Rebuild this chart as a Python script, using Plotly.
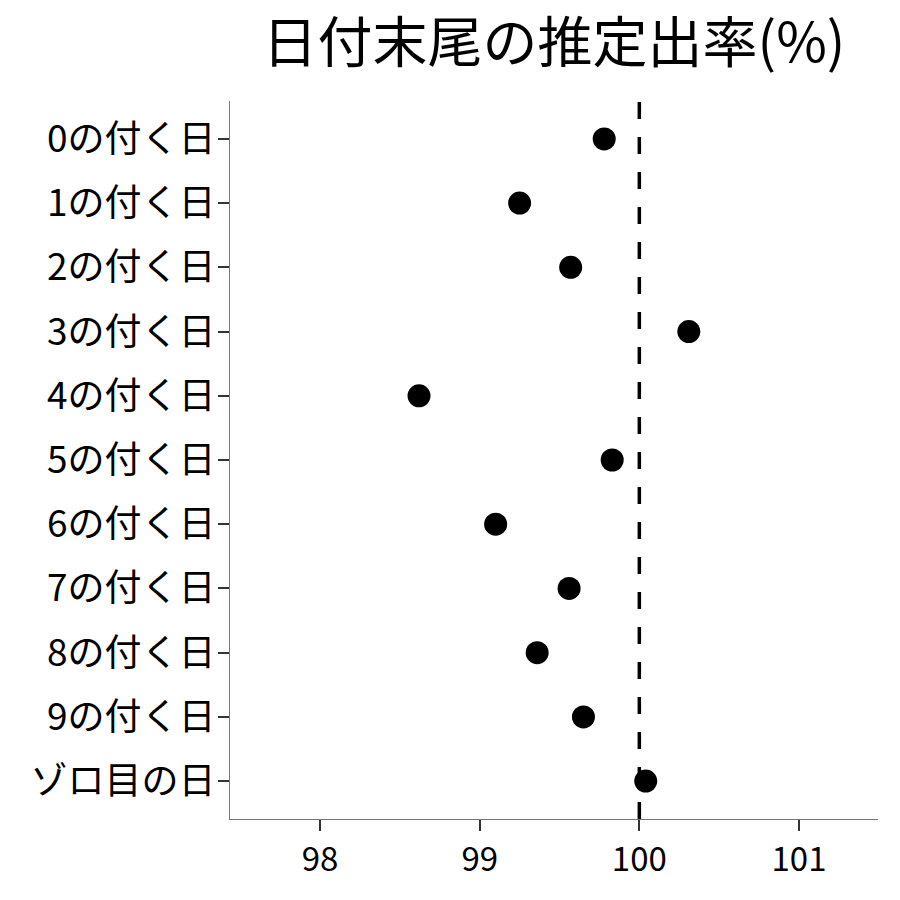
import plotly.graph_objects as go

categories = ["0の付く日", "1の付く日", "2の付く日", "3の付く日", "4の付く日",
              "5の付く日", "6の付く日", "7の付く日", "8の付く日", "9の付く日", "ゾロ目の日"]
rates = [99.78, 99.25, 99.57, 100.31, 98.62, 99.83, 99.10, 99.56, 99.36, 99.65, 100.04]
reference_value = 100
x_ticks = [98, 99, 100, 101]
title_text = "日付末尾の推定出率(%)"

FONT = "Noto Sans CJK JP"

fig = go.Figure()
fig.add_trace(go.Scatter(
    x=rates, y=categories, mode="markers",
    marker=dict(color="black", size=23, line=dict(width=0)),
    showlegend=False, cliponaxis=False,
))
fig.add_shape(type="line", x0=reference_value, x1=reference_value, y0=0, y1=1,
              xref="x", yref="paper", layer="below",
              line=dict(color="black", width=3.5, dash="17px,18px"))

fig.update_layout(
    width=900, height=900,
    margin=dict(l=222, r=30, t=93, b=89),
    paper_bgcolor="white", plot_bgcolor="white",
    font=dict(family=FONT, color="black"),
    title=dict(text=title_text, x=0.5, xref="paper", xanchor="center",
               y=1 - 35 / 900, yref="container", yanchor="middle",
               font=dict(size=55, family=FONT, color="black")),
)
fig.update_xaxes(
    range=[97.436, 101.495], tickvals=x_ticks, ticktext=[str(v) for v in x_ticks],
    showgrid=False, zeroline=False,
    showline=True, linecolor="#777777", linewidth=1.2,
    ticks="outside", ticklen=11, tickwidth=2.2, tickcolor="#333333",
    tickfont=dict(size=33, family=FONT, color="black"),
)
fig.update_yaxes(
    type="category", categoryorder="array", categoryarray=categories,
    range=[len(categories) - 1 + 0.59, -0.59],
    showgrid=False, zeroline=False,
    showline=True, linecolor="#777777", linewidth=1.2,
    ticks="outside", ticklen=11, tickwidth=2.2, tickcolor="#333333",
    ticklabelstandoff=-5,
    tickfont=dict(size=37, family=FONT, color="black"),
)

fig.write_html("out.html")
